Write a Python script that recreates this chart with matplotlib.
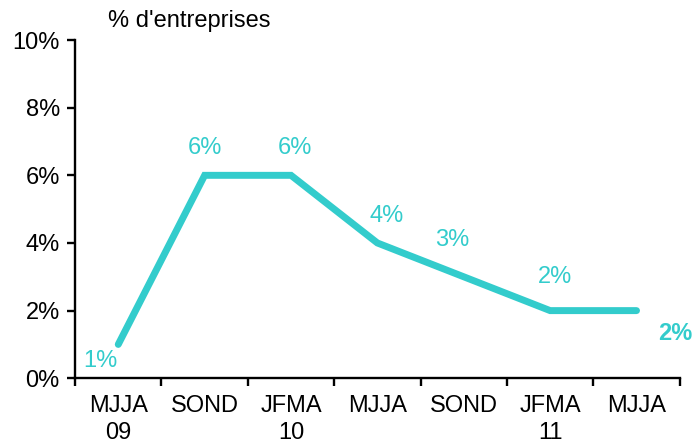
import matplotlib
matplotlib.use("Agg")
import matplotlib.pyplot as plt
import numpy as np

periods = ["MJJA\n09", "SOND", "JFMA\n10", "MJJA", "SOND", "JFMA\n11", "MJJA"]
values = [1, 6, 6, 4, 3, 2, 2]
y_ticks = [0, 2, 4, 6, 8, 10]

color = "#33CCCC"
plt.rcParams["font.family"] = ["Liberation Sans", "DejaVu Sans"]

fig = plt.figure(figsize=(6.95, 4.45), dpi=100)
ax = fig.add_axes([0.108, 0.150, 0.870, 0.760])

x = np.arange(len(values))
ax.plot(x, values, color=color, linewidth=5, solid_capstyle="round",
        solid_joinstyle="miter")

# label offsets in points (dx, dy)
offsets = [(-13, -12), (0, 19.5), (3, 19.5), (6.5, 19.5), (-8.6, 26.6), (3.6, 24), (28, -16.5)]
for i, v in enumerate(values):
    dx, dy = offsets[i]
    bold = i == len(values) - 1
    ax.annotate(f"{v}%", (x[i], v), xytext=(dx, dy), textcoords="offset points",
                ha="center", va="center", color=color, fontsize=17,
                fontweight="bold" if bold else "normal", annotation_clip=False)

ax.set_xlim(-0.5, len(values) - 0.5)
ax.set_ylim(0, 10)
ax.set_yticks(y_ticks)
ax.set_yticklabels([f"{t}%" for t in y_ticks], fontsize=17)

ax.set_xticks(np.arange(len(values) + 1) - 0.5)
ax.set_xticklabels([])
ax.set_xticks(x, minor=True)
ax.set_xticklabels(periods, minor=True, fontsize=17, linespacing=1.3)
ax.tick_params(axis="x", which="minor", length=0, pad=12)
ax.tick_params(axis="x", which="major", length=6, width=1.7, direction="out")
ax.tick_params(axis="y", length=6, width=1.7, direction="out", pad=5)

for side in ["top", "right"]:
    ax.spines[side].set_visible(False)
for side in ["left", "bottom"]:
    ax.spines[side].set_linewidth(1.7)

fig.text(0.155, 0.953, "% d'entreprises", fontsize=17, ha="left", va="center")

fig.savefig("out.png", dpi=100)
